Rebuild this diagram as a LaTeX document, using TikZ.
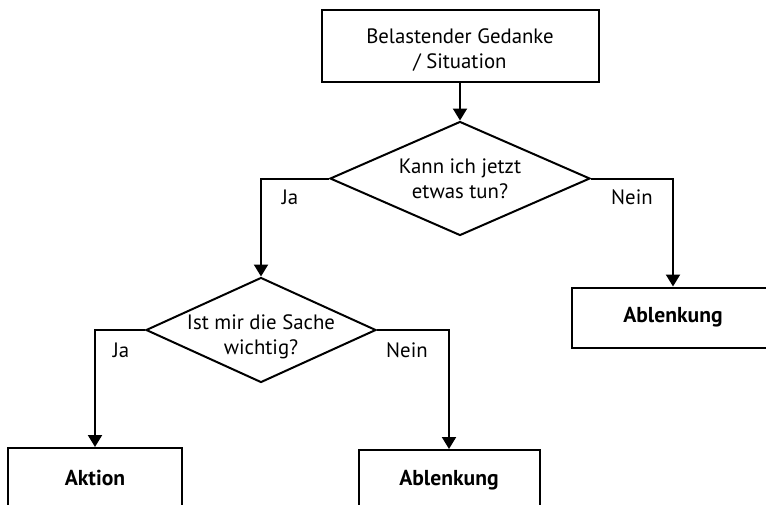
\documentclass[tikz,border=0pt]{standalone}
\usepackage{fontspec}
\setmainfont{PT Sans}
\usetikzlibrary{shapes.geometric,arrows.meta}
% Text im Knoten etwas tiefer setzen, ohne die Knotengroesse zu aendern
\newcommand{\tiefer}[2]{\raisebox{-#1}[\height][\depth]{\begin{tabular}{@{}c@{}}#2\end{tabular}}}
\begin{document}
\begin{tikzpicture}[x=0.5pt, y=-0.5pt, font=\fontsize{10.4}{12.5}\selectfont,
    line width=1pt,
    box/.style={draw, rectangle, align=center, inner sep=0pt},
    ask/.style={draw, diamond, align=center, inner sep=-3pt},
    ende/.style={box, minimum height=30pt, font=\fontsize{10.8}{13}\selectfont\bfseries},
    arr/.style={-{Triangle[width=7pt,length=6pt]}}]
                \clip (0,0) rectangle (766,504);
                \node[box, minimum width=138.5pt, minimum height=36pt] (start) at (460,46) {\tiefer{2.5pt}{Belastender Gedanke\\/ Situation}};
                \node[ask, aspect=2.28, minimum width=130pt, minimum height=57pt] (tun) at (460,178.5) {\tiefer{1pt}{Kann ich jetzt\\etwas tun?}};
                \node[ask, aspect=2.2, minimum width=115pt, minimum height=52.5pt] (wichtig) at (261,330) {\tiefer{3.5pt}{Ist mir die Sache\\wichtig?}};
                \node[ende, minimum width=101pt] (ablenkA) at (673,317.5) {Ablenkung};
                \node[ende, minimum width=87pt] (aktion) at (95,478) {Aktion};
                \node[ende, minimum width=90.5pt] (ablenkB) at (449,480) {Ablenkung};
                % Verbindungen
                \draw[arr] (start) -- (tun);
                \draw[arr] (tun.west) -| (wichtig.north);
                \draw[arr] (tun.east) -| (ablenkA.north);
                \draw[arr] (wichtig.west) -| (aktion.north);
                \draw[arr] (wichtig.east) -| (ablenkB.north);
                % Beschriftungen
                \node (jaA) at (290,197) {Ja};
                \node (neinA) at (632,197) {Nein};
                \node (jaB) at (121,350) {Ja};
                \node (neinB) at (407,350) {Nein};
            \end{tikzpicture}
\end{document}
